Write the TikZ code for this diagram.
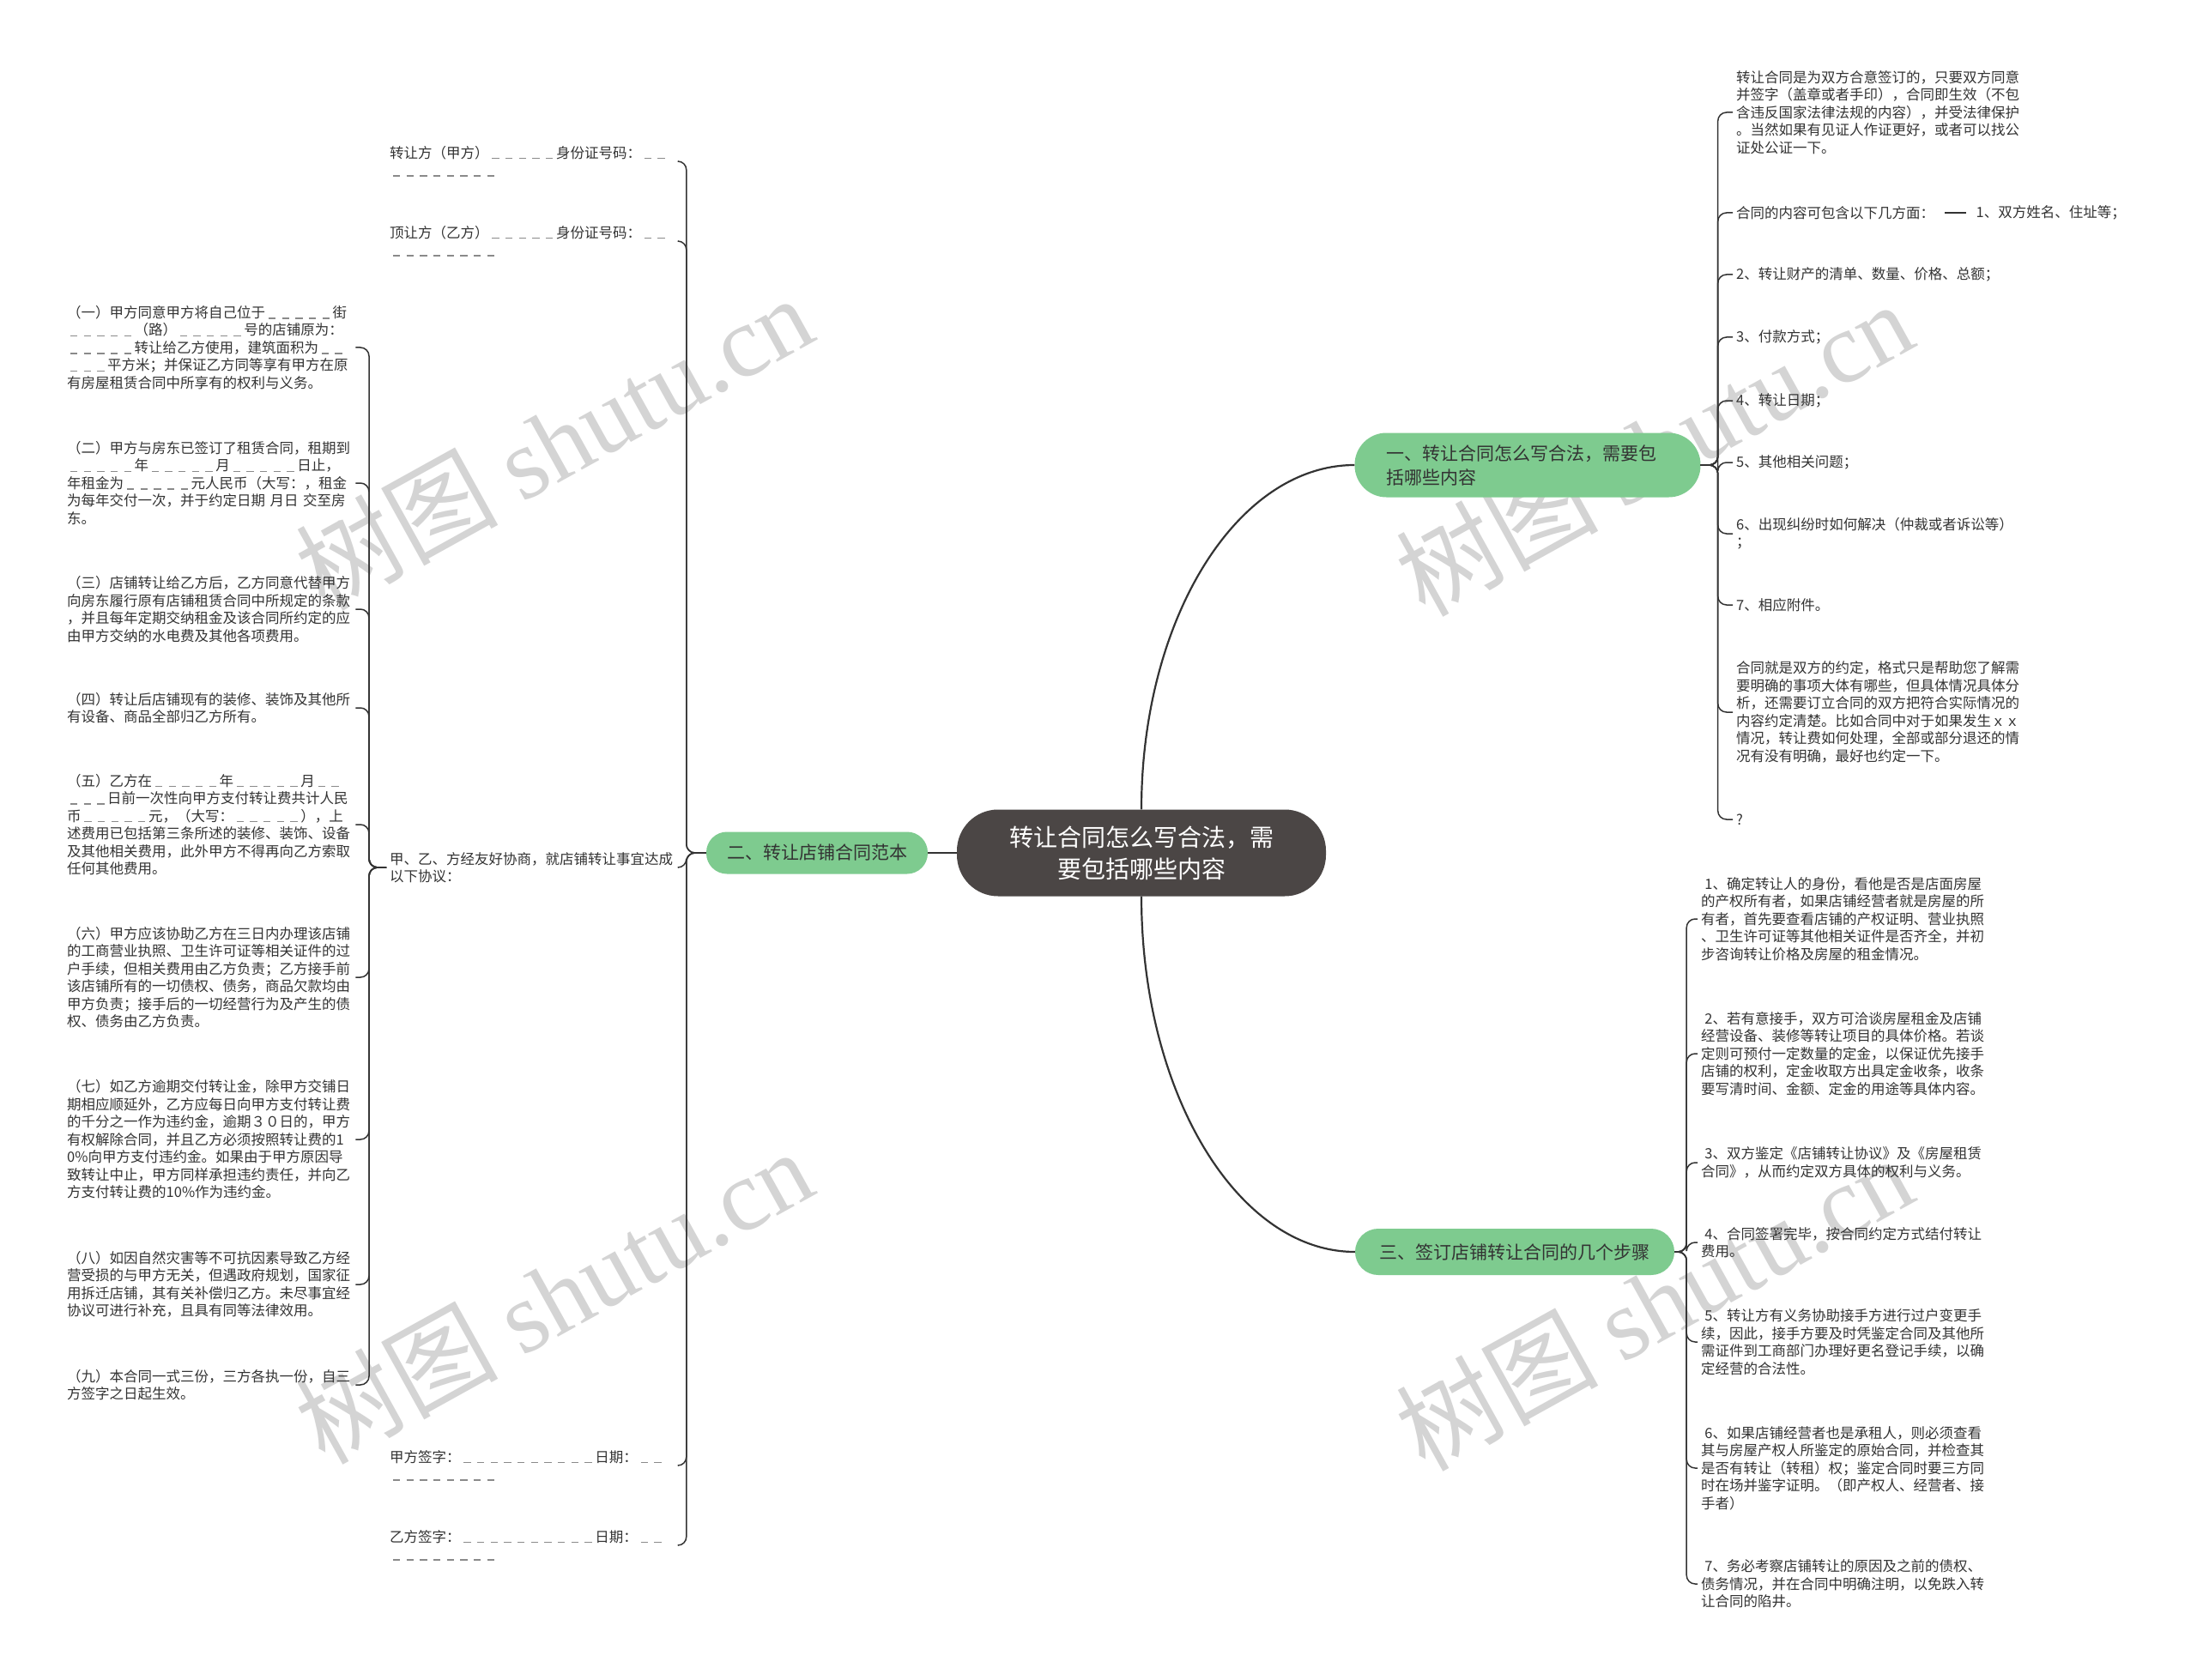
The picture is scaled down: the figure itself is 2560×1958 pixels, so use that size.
\documentclass[tikz,border=0pt]{standalone}
\usepackage{fontspec}
\setmainfont{Noto Sans CJK SC}
\newfontfamily\wmlatin{Liberation Serif}
\usetikzlibrary{positioning}

\definecolor{txt}{HTML}{333333}
\definecolor{rootfill}{HTML}{4B4645}
\definecolor{branchfill}{HTML}{7ECB8F}
\definecolor{linkcol}{HTML}{333333}
\definecolor{wmcol}{HTML}{D4D4D4}
\definecolor{blankcol}{HTML}{8A8A8A}

\newcommand\leaffont{\fontsize{16.5}{20.5}\selectfont}
\newcommand\gap{\makebox[0.95em]{\textcolor{blankcol}{\rule[-0.08em]{0.5em}{0.09em}}}}
\newcommand\gaps[1]{\foreach\g in {1,...,#1}{\gap}}

\begin{document}
\begin{tikzpicture}[x=1pt, y=-1pt,
    root/.style={fill=rootfill, text=white, rounded corners=48pt, minimum width=430pt, minimum height=101pt, inner sep=0pt, align=center, font=\fontsize{28}{37}\selectfont},
    branch/.style={fill=branchfill, text=txt, inner sep=0pt, font=\fontsize{21}{28}\selectfont},
    leaf/.style={anchor=west, align=left, inner sep=4pt, text=txt, font=\leaffont},
    lleaf/.style={leaf, text width=332pt},
    limb/.style={draw=linkcol, line width=2.2pt},
    twig/.style={draw=linkcol, line width=1.5pt, rounded corners=10pt},
    wmark/.style={text=wmcol, rotate=29, font=\fontsize{118}{118}\selectfont}
]
    \useasboundingbox (0,0) rectangle (2560,1958);
    \fill[white] (0,0) rectangle (2560,1958);

    % watermarks
    \foreach \wx/\wy [count=\i] in {645/515, 1927/522, 645/1510, 1927/1518}
        \node[wmark] (wm\i) at (\wx,\wy) {树图 {\wmlatin shutu.cn}};

    % centre and main branches
    \node[root] (root) at (1330,994) {转让合同怎么写合法，需\\要包括哪些内容};
    \node[branch, rounded corners=37pt, minimum width=403pt, minimum height=75pt, text width=329pt, inner xsep=37pt, align=left] (b1) at (1780,542) {一、转让合同怎么写合法，需要包\\括哪些内容};
    \node[branch, rounded corners=24pt, minimum width=258pt, minimum height=49pt] (b2) at (952,994) {二、转让店铺合同范本};
    \node[branch, rounded corners=27pt, minimum width=372pt, minimum height=54pt] (b3) at (1765,1459) {三、签订店铺转让合同的几个步骤};

    \draw[limb] (root.west) -- (b2.east);
    \draw[limb] (root.north) .. controls +(0,-222) and +(-137,0) .. (b1.west);
    \draw[limb] (root.south) .. controls +(0,229) and +(-137,0) .. (b3.west);

    % branch 1
    \node[leaf] (r1) at (2019,131) {转让合同是为双方合意签订的，只要双方同意\\并签字（盖章或者手印），合同即生效（不包\\含违反国家法律法规的内容），并受法律保护\\。当然如果有见证人作证更好，或者可以找公\\证处公证一下。};
    \node[leaf] (r2) at (2019,248) {合同的内容可包含以下几方面：};
    \node[leaf, right=40pt of r2] (r2a) {1、双方姓名、住址等；};
    \node[leaf] (r3) at (2019,320) {2、转让财产的清单、数量、价格、总额；};
    \node[leaf] (r4) at (2019,393) {3、付款方式；};
    \node[leaf] (r5) at (2019,467) {4、转让日期；};
    \node[leaf] (r6) at (2019,539) {5、其他相关问题；};
    \node[leaf] (r7) at (2019,622) {6、出现纠纷时如何解决（仲裁或者诉讼等）\\；};
    \node[leaf] (r8) at (2019,705) {7、相应附件。};
    \node[leaf] (r9) at (2019,830) {合同就是双方的约定，格式只是帮助您了解需\\要明确的事项大体有哪些，但具体情况具体分\\析，还需要订立合同的双方把符合实际情况的\\内容约定清楚。比如合同中对于如果发生ｘｘ\\情况，转让费如何处理，全部或部分退还的情\\况有没有明确，最好也约定一下。};
    \node[leaf] (r10) at (2019,955) {?};

    \coordinate (j1) at ([xshift=20pt]b1.east);
    \foreach \i in {1,...,10}
        \draw[twig] (b1.east) -- (j1) |- (r\i.west);
    \draw[twig, line width=2pt, shorten <=8pt, shorten >=7pt] (r2) -- (r2a);

    % branch 2
    \node[lleaf] (k1) at (450,188) {转让方（甲方）\gaps{5}身份证号码：\gaps{2}\\\gaps{8}};
    \node[lleaf] (k2) at (450,281) {顶让方（乙方）\gaps{5}身份证号码：\gaps{2}\\\gaps{8}};
    \node[lleaf] (k3) at (450,1011) {甲、乙、方经友好协商，就店铺转让事宜达成\\以下协议：};
    \node[lleaf] (k4) at (450,1708) {甲方签字：\gaps{10}日期：\gaps{2}\\\gaps{8}};
    \node[lleaf] (k5) at (450,1801) {乙方签字：\gaps{10}日期：\gaps{2}\\\gaps{8}};

    \coordinate (j2) at ([xshift=-23pt]b2.west);
    \foreach \i in {1,...,5}
        \draw[twig] (b2.west) -- (j2) |- (k\i.east);

    % contract clauses
    \node[lleaf] (c1) at (74,405) {（一）甲方同意甲方将自己位于\gaps{5}街\\\gaps{5}（路）\gaps{5}号的店铺原为：\\\gaps{5}转让给乙方使用，建筑面积为\gaps{2}\\\gaps{3}平方米；并保证乙方同等享有甲方在原\\有房屋租赁合同中所享有的权利与义务。};
    \node[lleaf] (c2) at (74,563) {（二）甲方与房东已签订了租赁合同，租期到\\\gaps{5}年\gaps{5}月\gaps{5}日止，\\年租金为\gaps{5}元人民币（大写：，租金\\为每年交付一次，并于约定日期~月日~交至房\\东。};
    \node[lleaf] (c3) at (74,710) {（三）店铺转让给乙方后，乙方同意代替甲方\\向房东履行原有店铺租赁合同中所规定的条款\\，并且每年定期交纳租金及该合同所约定的应\\由甲方交纳的水电费及其他各项费用。};
    \node[lleaf] (c4) at (74,825) {（四）转让后店铺现有的装修、装饰及其他所\\有设备、商品全部归乙方所有。};
    \node[lleaf] (c5) at (74,961) {（五）乙方在\gaps{5}年\gaps{5}月\gaps{2}\\\gaps{3}日前一次性向甲方支付转让费共计人民\\币\gaps{5}元，（大写：\gaps{5}），上\\述费用已包括第三条所述的装修、装饰、设备\\及其他相关费用，此外甲方不得再向乙方索取\\任何其他费用。};
    \node[lleaf] (c6) at (74,1139) {（六）甲方应该协助乙方在三日内办理该店铺\\的工商营业执照、卫生许可证等相关证件的过\\户手续，但相关费用由乙方负责；乙方接手前\\该店铺所有的一切债权、债务，商品欠款均由\\甲方负责；接手后的一切经营行为及产生的债\\权、债务由乙方负责。};
    \node[lleaf] (c7) at (74,1328) {（七）如乙方逾期交付转让金，除甲方交铺日\\期相应顺延外，乙方应每日向甲方支付转让费\\的千分之一作为违约金，逾期３０日的，甲方\\有权解除合同，并且乙方必须按照转让费的1\\0\%向甲方支付违约金。如果由于甲方原因导\\致转让中止，甲方同样承担违约责任，并向乙\\方支付转让费的10\%作为违约金。};
    \node[lleaf] (c8) at (74,1497) {（八）如因自然灾害等不可抗因素导致乙方经\\营受损的与甲方无关，但遇政府规划，国家征\\用拆迁店铺，其有关补偿归乙方。未尽事宜经\\协议可进行补充，且具有同等法律效用。};
    \node[lleaf] (c9) at (74,1614) {（九）本合同一式三份，三方各执一份，自三\\方签字之日起生效。};

    \coordinate (jk) at ([xshift=-20pt]k3.west);
    \foreach \i in {1,...,9}
        \draw[twig] (k3.west) -- (jk) |- (c\i.east);

    % branch 3
    \node[leaf] (s1) at (1978,1071) {\hspace*{0.25em}1、确定转让人的身份，看他是否是店面房屋\\的产权所有者，如果店铺经营者就是房屋的所\\有者，首先要查看店铺的产权证明、营业执照\\、卫生许可证等其他相关证件是否齐全，并初\\步咨询转让价格及房屋的租金情况。};
    \node[leaf] (s2) at (1978,1228) {\hspace*{0.25em}2、若有意接手，双方可洽谈房屋租金及店铺\\经营设备、装修等转让项目的具体价格。若谈\\定则可预付一定数量的定金，以保证优先接手\\店铺的权利，定金收取方出具定金收条，收条\\要写清时间、金额、定金的用途等具体内容。};
    \node[leaf] (s3) at (1978,1355) {\hspace*{0.25em}3、双方鉴定《店铺转让协议》及《房屋租赁\\合同》，从而约定双方具体的权利与义务。};
    \node[leaf] (s4) at (1978,1448) {\hspace*{0.25em}4、合同签署完毕，按合同约定方式结付转让\\费用。};
    \node[leaf] (s5) at (1978,1564) {\hspace*{0.25em}5、转让方有义务协助接手方进行过户变更手\\续，因此，接手方要及时凭鉴定合同及其他所\\需证件到工商部门办理好更名登记手续，以确\\定经营的合法性。};
    \node[leaf] (s6) at (1978,1711) {\hspace*{0.25em}6、如果店铺经营者也是承租人，则必须查看\\其与房屋产权人所鉴定的原始合同，并检查其\\是否有转让（转租）权；鉴定合同时要三方同\\时在场并鉴字证明。（即产权人、经营者、接\\手者）};
    \node[leaf] (s7) at (1978,1846) {\hspace*{0.25em}7、务必考察店铺转让的原因及之前的债权、\\债务情况，并在合同中明确注明，以免跌入转\\让合同的陷井。};

    \coordinate (j3) at ([xshift=14pt]b3.east);
    \foreach \i in {1,...,7}
        \draw[twig] (b3.east) -- (j3) |- (s\i.west);
\end{tikzpicture}
\end{document}
